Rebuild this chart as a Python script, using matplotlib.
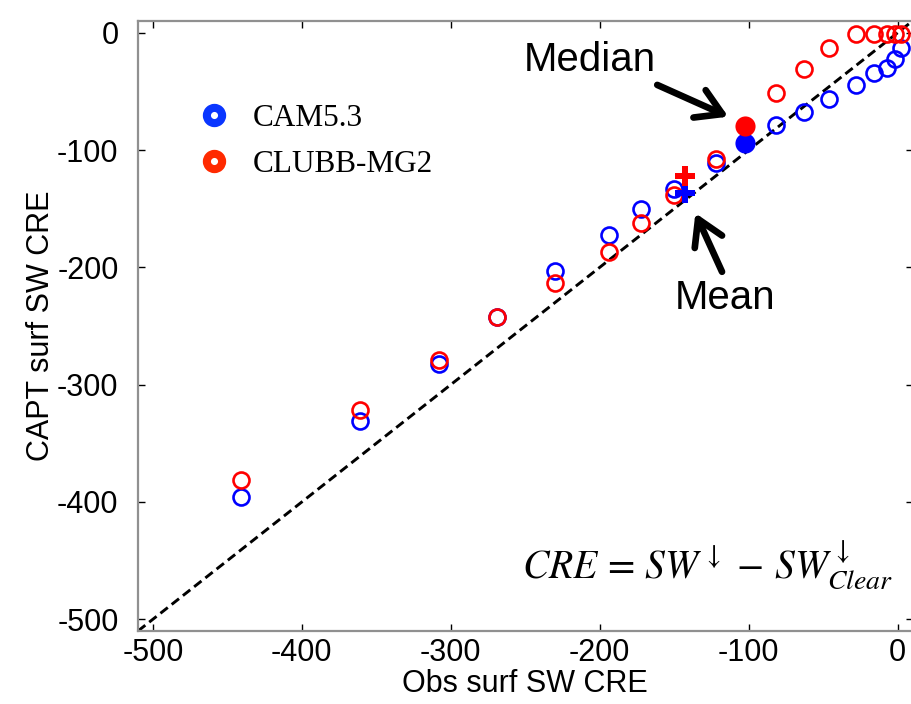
import matplotlib
matplotlib.use("Agg")
import matplotlib.pyplot as plt
from matplotlib.lines import Line2D

plt.rcParams['font.family'] = ['Liberation Sans', 'DejaVu Sans']
plt.rcParams['mathtext.fontset'] = 'stix'
plt.rcParams['axes.unicode_minus'] = False

# observed surface SW CRE (x) and model values (y)
obs = [-441, -361, -308, -269, -230, -194, -172, -150, -122,
       -82, -63, -46, -28, -16, -7, -2, 2.5]
cam53 = [-396, -331, -282, -242, -203, -172.5, -150.6, -133.5, -111,
         -78.7, -67.3, -56.5, -44.5, -34.6, -30, -22, -13]
clubb = [-381, -322, -279, -242, -213, -187, -162.6, -138.4, -108,
         -51.6, -31.2, -13.2, -1, -1, -1, -1, -1]

# summary statistics: [obs, CAM5.3, CLUBB-MG2]
median_vals = [-102.3, -94.3, -79.5]
mean_vals = [-143, -137, -122]

ticks = [-500, -400, -300, -200, -100, 0]
lims = [-510, 10]

fig = plt.figure(figsize=(9.12, 7.04), dpi=100)
ax = fig.add_axes([0.1513, 0.1037, 0.8493, 0.8665])

# one-to-one line
ax.plot(lims, lims, color='black', lw=2.1, dashes=(3.2, 1.7), zorder=1)

ax.plot(obs, cam53, 'o', mfc='none', mec='#0000ff', ms=11.5, mew=1.9, zorder=3)
ax.plot(obs, clubb, 'o', mfc='none', mec='#ff0000', ms=11.5, mew=1.9, zorder=3)

ax.plot(median_vals[0], median_vals[1], 'o', color='#0000ff', ms=14.5, mew=0, zorder=4)
ax.plot(median_vals[0], median_vals[2], 'o', color='#ff0000', ms=14.5, mew=0, zorder=4)
ax.plot(mean_vals[0], mean_vals[1], 'P', color='#0000ff', ms=15, mew=0, zorder=4)
ax.plot(mean_vals[0], mean_vals[2], 'P', color='#ff0000', ms=15, mew=0, zorder=4)

ax.set_xlim(lims)
ax.set_ylim(lims)
ax.set_xticks(ticks)
ax.set_yticks(ticks)
ax.tick_params(direction='in', length=5, width=1, top=True, right=True,
               labelsize=22, color='black')
ax.tick_params(axis='x', pad=5)
ax.tick_params(axis='y', pad=14)
for s in ax.spines.values():
    s.set_color('#909090')
    s.set_linewidth(1.6)

ax.set_xlabel('Obs surf SW CRE', fontsize=22, labelpad=1)
ax.set_ylabel('CAPT surf SW CRE', fontsize=22, labelpad=1)

# legend
handles = [
    Line2D([], [], ls='none', marker='o', ms=11, mew=5.8, mfc='white', mec='#0a36ff'),
    Line2D([], [], ls='none', marker='o', ms=11, mew=5.8, mfc='white', mec='#ff2a00'),
]
ax.legend(handles, ['CAM5.3', 'CLUBB-MG2'], loc='upper left',
          bbox_to_anchor=(0.083, 0.864), frameon=False, handlelength=0.75,
          handletextpad=0.85, labelspacing=0.53, borderpad=0, borderaxespad=0,
          prop={'family': 'Liberation Serif', 'size': 22.5})

# annotations
arrow = dict(arrowstyle='->,head_length=0.6,head_width=0.36', lw=4.8,
             color='black', mutation_scale=30, shrinkA=0, shrinkB=0)
ax.text(-207, -23, 'Median', fontsize=29, ha='center', va='center')
ax.annotate('', xy=(-113.7, -71.6), xytext=(-161.4, -44.5), arrowprops=arrow)
ax.text(-115.7, -226, 'Mean', fontsize=29, ha='center', va='center')
ax.annotate('', xy=(-135.8, -153.8), xytext=(-117.9, -203.8), arrowprops=arrow)

ax.text(-127.6, -465, r'$CRE\,=\,SW^{\downarrow}\,-\,SW^{\downarrow}_{Clear}$',
        fontsize=28.5, ha='center', va='baseline')

fig.savefig('out.png', dpi=100)
